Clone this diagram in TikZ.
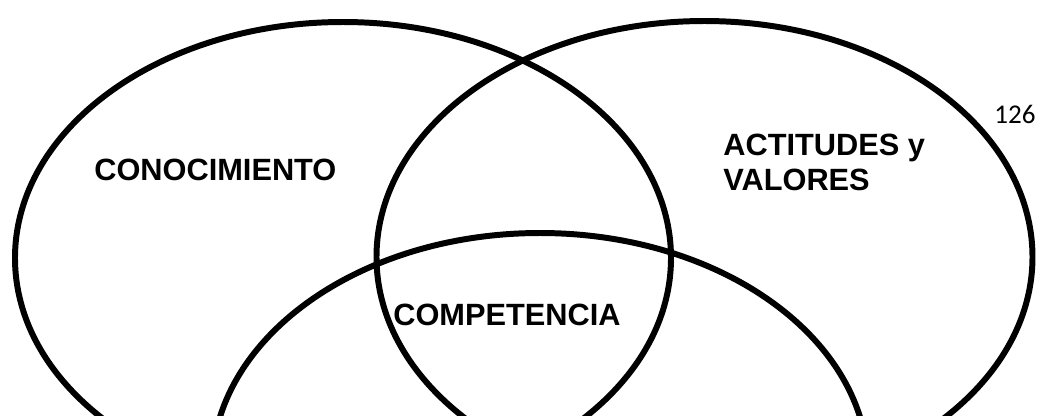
\documentclass[tikz,border=0pt]{standalone}
\usepackage{fontspec}
\setmainfont{Liberation Sans}
\newfontfamily\pagefont{Carlito}
\usetikzlibrary{positioning}

\begin{document}
\begin{tikzpicture}[set/.style={draw,line width=3.4pt},
  lab/.style={inner sep=0pt,font=\bfseries\fontsize{17.5pt}{19.9pt}\selectfont}]
\useasboundingbox (0,0) rectangle (20.74,-8.3);
\clip (0,0) rectangle (20.74,-8.3);
\draw[set] (6.86,-5.16) ellipse [x radius=6.56, y radius=4.72];
\draw[set] (14.09,-5.14) ellipse [x radius=6.56, y radius=4.72];
\draw[set] (10.8,-9.38) ellipse [x radius=6.56, y radius=4.72];
\node[lab,anchor=base west] (K) at (1.88,-3.6) {CONOCIMIENTO};
\node[lab,anchor=north west,align=left] (AV) at (14.46,-2.68) {ACTITUDES y\\VALORES};
\node[lab,anchor=base west] (C) at (7.86,-6.5) {COMPETENCIA};
\node[inner sep=0pt,anchor=base west,font=\pagefont\fontsize{15.4pt}{18pt}\selectfont] (P) at (19.88,-2.46) {126};
\end{tikzpicture}
\end{document}
